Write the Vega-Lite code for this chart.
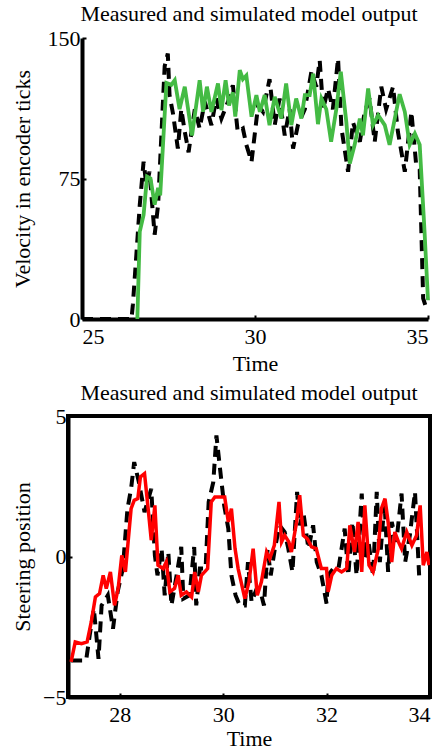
{
  "$schema": "https://vega.github.io/schema/vega-lite/v6.json",
  "padding": {"left": 9, "top": 3, "right": 5, "bottom": 3},
  "background": "white",
  "spacing": 6,
  "config": {
    "font": "Liberation Serif",
    "axis": {
      "domainColor": "black",
      "domainWidth": 4,
      "tickColor": "black",
      "tickWidth": 2,
      "tickSize": -4,
      "grid": false,
      "zindex": 1,
      "labelFont": "Liberation Serif",
      "labelFontSize": 22,
      "labelColor": "black",
      "titleFont": "Liberation Serif",
      "titleFontSize": 22,
      "titleFontWeight": "normal",
      "titleColor": "black",
      "labelPadding": 6
    },
    "axisX": {"labelPadding": 11, "titlePadding": 6},
    "title": {"font": "Liberation Serif", "fontSize": 22, "fontWeight": "normal", "color": "black", "frame": "group"}
  },
  "datasets": {
    "vel_sim": [
      {"t": 26.6, "v": 0}, {"t": 26.67, "v": 46.7}, {"t": 26.78, "v": 55.6}, {"t": 26.88, "v": 76}, {"t": 26.98, "v": 75},
      {"t": 27.1, "v": 61}, {"t": 27.2, "v": 70}, {"t": 27.26, "v": 66}, {"t": 27.44, "v": 126}, {"t": 27.58, "v": 125},
      {"t": 27.68, "v": 127.5}, {"t": 27.82, "v": 112}, {"t": 27.97, "v": 124}, {"t": 28.18, "v": 98}, {"t": 28.4, "v": 127.5},
      {"t": 28.5, "v": 110.6}, {"t": 28.61, "v": 124}, {"t": 28.74, "v": 110.6}, {"t": 28.93, "v": 125.7}, {"t": 29.03, "v": 111.5},
      {"t": 29.15, "v": 127.5}, {"t": 29.25, "v": 114}, {"t": 29.36, "v": 121}, {"t": 29.43, "v": 108}, {"t": 29.56, "v": 132.8},
      {"t": 29.65, "v": 128}, {"t": 29.75, "v": 130}, {"t": 29.9, "v": 108}, {"t": 30.04, "v": 119.5}, {"t": 30.14, "v": 110.6},
      {"t": 30.28, "v": 119.5}, {"t": 30.42, "v": 103.5}, {"t": 30.57, "v": 118.6}, {"t": 30.76, "v": 107}, {"t": 30.9, "v": 125.7},
      {"t": 31.05, "v": 103.5}, {"t": 31.19, "v": 117.7}, {"t": 31.34, "v": 107}, {"t": 31.44, "v": 119.5}, {"t": 31.58, "v": 119.5},
      {"t": 31.68, "v": 131}, {"t": 31.82, "v": 104}, {"t": 31.92, "v": 117.7}, {"t": 32.06, "v": 112}, {"t": 32.2, "v": 94.6},
      {"t": 32.35, "v": 112}, {"t": 32.48, "v": 132}, {"t": 32.64, "v": 105}, {"t": 32.74, "v": 83}, {"t": 32.88, "v": 93},
      {"t": 33.03, "v": 107}, {"t": 33.12, "v": 98}, {"t": 33.27, "v": 123}, {"t": 33.41, "v": 103.5}, {"t": 33.56, "v": 108.8},
      {"t": 33.75, "v": 103.5}, {"t": 33.89, "v": 93}, {"t": 34.04, "v": 107}, {"t": 34.18, "v": 120}, {"t": 34.33, "v": 110.6},
      {"t": 34.47, "v": 93}, {"t": 34.62, "v": 99}, {"t": 34.76, "v": 93}, {"t": 34.9, "v": 46.7}, {"t": 35.0, "v": 10}
    ],
    "vel_meas": [
      {"t": 25.0, "v": 0}, {"t": 26.43, "v": 0}, {"t": 26.47, "v": 7.6}, {"t": 26.57, "v": 34}, {"t": 26.67, "v": 61}, {"t": 26.78, "v": 84},
      {"t": 26.86, "v": 71.5}, {"t": 26.95, "v": 78.6}, {"t": 27.1, "v": 45}, {"t": 27.2, "v": 61}, {"t": 27.34, "v": 116},
      {"t": 27.39, "v": 135}, {"t": 27.48, "v": 141.7}, {"t": 27.53, "v": 119.5}, {"t": 27.63, "v": 109.7}, {"t": 27.77, "v": 91},
      {"t": 27.87, "v": 112}, {"t": 27.97, "v": 100}, {"t": 28.08, "v": 89}, {"t": 28.26, "v": 112}, {"t": 28.4, "v": 101.7},
      {"t": 28.55, "v": 116}, {"t": 28.74, "v": 103.5}, {"t": 28.88, "v": 117.7}, {"t": 29.03, "v": 107}, {"t": 29.22, "v": 116},
      {"t": 29.36, "v": 124.8}, {"t": 29.5, "v": 100}, {"t": 29.65, "v": 101.7}, {"t": 29.75, "v": 93}, {"t": 29.9, "v": 84},
      {"t": 30.09, "v": 114}, {"t": 30.23, "v": 110.6}, {"t": 30.42, "v": 128}, {"t": 30.57, "v": 103.5}, {"t": 30.71, "v": 117.7},
      {"t": 30.86, "v": 98}, {"t": 31.0, "v": 112}, {"t": 31.1, "v": 91}, {"t": 31.24, "v": 103.5}, {"t": 31.44, "v": 112},
      {"t": 31.63, "v": 132}, {"t": 31.77, "v": 124}, {"t": 31.87, "v": 138}, {"t": 31.97, "v": 112}, {"t": 32.11, "v": 123},
      {"t": 32.25, "v": 112}, {"t": 32.4, "v": 139}, {"t": 32.5, "v": 101.7}, {"t": 32.69, "v": 78.6}, {"t": 32.83, "v": 105},
      {"t": 33.03, "v": 94.6}, {"t": 33.17, "v": 110.6}, {"t": 33.31, "v": 117.7}, {"t": 33.46, "v": 94.6}, {"t": 33.65, "v": 124},
      {"t": 33.79, "v": 112}, {"t": 33.99, "v": 124}, {"t": 34.13, "v": 100}, {"t": 34.33, "v": 78.6}, {"t": 34.52, "v": 110.6},
      {"t": 34.66, "v": 82}, {"t": 34.76, "v": 80}, {"t": 34.86, "v": 11}, {"t": 34.92, "v": 7.6}
    ],
    "steer_sim": [
      {"t": 27.06, "v": -3.75}, {"t": 27.14, "v": -3.04}, {"t": 27.26, "v": -3.1}, {"t": 27.37, "v": -3.04}, {"t": 27.45, "v": -2.33},
      {"t": 27.53, "v": -1.44}, {"t": 27.61, "v": -1.32}, {"t": 27.68, "v": -0.67}, {"t": 27.74, "v": -1.14}, {"t": 27.82, "v": -0.55},
      {"t": 27.9, "v": -1.74}, {"t": 27.97, "v": -1.14}, {"t": 28.04, "v": 0.04}, {"t": 28.11, "v": -0.55}, {"t": 28.22, "v": 1.7},
      {"t": 28.28, "v": 2.0}, {"t": 28.35, "v": 2.06}, {"t": 28.4, "v": 2.83}, {"t": 28.48, "v": 2.95}, {"t": 28.55, "v": 1.7},
      {"t": 28.61, "v": 0.58}, {"t": 28.68, "v": 1.82}, {"t": 28.74, "v": -0.31}, {"t": 28.84, "v": -0.43}, {"t": 28.9, "v": -0.2},
      {"t": 28.97, "v": -1.26}, {"t": 29.06, "v": -1.14}, {"t": 29.13, "v": -0.67}, {"t": 29.19, "v": -1.38}, {"t": 29.29, "v": -1.26},
      {"t": 29.39, "v": -1.44}, {"t": 29.45, "v": -0.55}, {"t": 29.52, "v": -1.26}, {"t": 29.58, "v": -0.67}, {"t": 29.7, "v": -0.43},
      {"t": 29.77, "v": 1.94}, {"t": 29.84, "v": 2.12}, {"t": 29.97, "v": 2.12}, {"t": 30.03, "v": 2.12}, {"t": 30.1, "v": 1.23},
      {"t": 30.16, "v": 1.7}, {"t": 30.23, "v": 0.28}, {"t": 30.29, "v": -0.43}, {"t": 30.42, "v": -1.5}, {"t": 30.5, "v": -0.9},
      {"t": 30.58, "v": 0.28}, {"t": 30.66, "v": -1.38}, {"t": 30.74, "v": -0.9}, {"t": 30.84, "v": 0.16}, {"t": 30.9, "v": -0.08},
      {"t": 30.99, "v": 0.4}, {"t": 31.08, "v": 1.94}, {"t": 31.13, "v": 0.52}, {"t": 31.19, "v": 0.75}, {"t": 31.27, "v": 0.52},
      {"t": 31.32, "v": 0.16}, {"t": 31.42, "v": 1.23}, {"t": 31.48, "v": 2.18}, {"t": 31.55, "v": 0.75}, {"t": 31.63, "v": 0.63},
      {"t": 31.71, "v": 0.34}, {"t": 31.8, "v": 0.28}, {"t": 31.9, "v": -0.43}, {"t": 32.0, "v": -0.43}, {"t": 32.03, "v": -1.26},
      {"t": 32.1, "v": -0.67}, {"t": 32.19, "v": -0.43}, {"t": 32.29, "v": -0.55}, {"t": 32.39, "v": -0.43}, {"t": 32.45, "v": 1.11},
      {"t": 32.54, "v": 0.16}, {"t": 32.61, "v": 1.23}, {"t": 32.68, "v": -0.55}, {"t": 32.74, "v": 1.82}, {"t": 32.82, "v": -0.31},
      {"t": 32.9, "v": -0.55}, {"t": 33.0, "v": 0.28}, {"t": 33.06, "v": 1.7}, {"t": 33.13, "v": 2.06}, {"t": 33.19, "v": 1.23},
      {"t": 33.26, "v": -0.2}, {"t": 33.32, "v": 0.87}, {"t": 33.39, "v": 0.52}, {"t": 33.45, "v": 0.28}, {"t": 33.55, "v": 0.87},
      {"t": 33.65, "v": 0.4}, {"t": 33.74, "v": 0.75}, {"t": 33.81, "v": 1.82}, {"t": 33.87, "v": -0.31}, {"t": 33.94, "v": 0.16},
      {"t": 33.98, "v": -0.31}
    ],
    "steer_meas": [
      {"t": 27.06, "v": -3.7}, {"t": 27.35, "v": -3.7}, {"t": 27.42, "v": -2.8}, {"t": 27.5, "v": -1.86}, {"t": 27.59, "v": -3.64},
      {"t": 27.65, "v": -1.74}, {"t": 27.77, "v": -1.38}, {"t": 27.87, "v": -2.57}, {"t": 27.96, "v": -1.26}, {"t": 28.06, "v": -0.43},
      {"t": 28.15, "v": 1.7}, {"t": 28.22, "v": 2.41}, {"t": 28.28, "v": 3.36}, {"t": 28.37, "v": 2.65}, {"t": 28.48, "v": 1.58},
      {"t": 28.61, "v": 2.41}, {"t": 28.68, "v": 0.04}, {"t": 28.73, "v": -0.67}, {"t": 28.81, "v": 0.28}, {"t": 28.87, "v": -1.38},
      {"t": 28.94, "v": 0.16}, {"t": 29.0, "v": -1.74}, {"t": 29.1, "v": -0.67}, {"t": 29.19, "v": 0.34}, {"t": 29.23, "v": -1.5},
      {"t": 29.35, "v": -1.38}, {"t": 29.44, "v": 0.34}, {"t": 29.48, "v": -1.74}, {"t": 29.55, "v": -0.43}, {"t": 29.66, "v": -0.43},
      {"t": 29.72, "v": 1.94}, {"t": 29.81, "v": 2.65}, {"t": 29.87, "v": 4.31}, {"t": 29.94, "v": 3.12}, {"t": 30.02, "v": 1.82},
      {"t": 30.1, "v": 0.99}, {"t": 30.16, "v": -0.67}, {"t": 30.24, "v": -1.38}, {"t": 30.32, "v": -1.74}, {"t": 30.42, "v": -1.74},
      {"t": 30.48, "v": -0.2}, {"t": 30.55, "v": -1.62}, {"t": 30.65, "v": -1.14}, {"t": 30.74, "v": -1.38}, {"t": 30.79, "v": -1.74},
      {"t": 30.86, "v": 0.28}, {"t": 30.92, "v": -0.67}, {"t": 31.0, "v": 0.28}, {"t": 31.09, "v": 1.11}, {"t": 31.19, "v": 0.87},
      {"t": 31.26, "v": 0.28}, {"t": 31.34, "v": -0.55}, {"t": 31.43, "v": 2.3}, {"t": 31.48, "v": 1.11}, {"t": 31.55, "v": 1.58},
      {"t": 31.65, "v": 0.28}, {"t": 31.74, "v": 1.11}, {"t": 31.81, "v": -0.2}, {"t": 31.9, "v": -0.67}, {"t": 32.0, "v": -1.68},
      {"t": 32.03, "v": -0.67}, {"t": 32.13, "v": -0.43}, {"t": 32.23, "v": -0.43}, {"t": 32.35, "v": 0.99}, {"t": 32.42, "v": -0.67},
      {"t": 32.5, "v": 1.23}, {"t": 32.58, "v": -0.67}, {"t": 32.68, "v": 2.24}, {"t": 32.74, "v": -0.08}, {"t": 32.81, "v": 0.52},
      {"t": 32.9, "v": -0.67}, {"t": 32.97, "v": 2.3}, {"t": 33.03, "v": -0.2}, {"t": 33.12, "v": 1.94}, {"t": 33.19, "v": -0.55},
      {"t": 33.26, "v": 1.23}, {"t": 33.35, "v": 0.52}, {"t": 33.45, "v": 2.24}, {"t": 33.52, "v": -0.2}, {"t": 33.61, "v": 0.75},
      {"t": 33.71, "v": 2.3}, {"t": 33.79, "v": -0.67}
    ]
  },
  "vconcat": [
    {
      "title": {"text": "Measured and simulated model output", "offset": 1},
      "width": 362,
      "height": 281,
      "view": {"stroke": null},
      "encoding": {
        "x": {"field": "t", "type": "quantitative", "scale": {"domain": [25, 35], "range": [14, 360], "nice": false, "zero": false}, "axis": {"title": "Time", "values": [25, 30, 35]}},
        "y": {"field": "v", "type": "quantitative", "scale": {"domain": [0, 150], "nice": false}, "axis": {"title": "Velocity in encoder ticks", "values": [0, 75, 150], "titlePadding": 13, "offset": -14}}
      },
      "layer": [
        {"data": {"name": "vel_meas"}, "mark": {"type": "line", "color": "black", "strokeWidth": 4, "strokeDash": [11, 7], "clip": true}},
        {"data": {"name": "vel_sim"}, "mark": {"type": "line", "color": "#44bb44", "strokeWidth": 3.8, "clip": true}}
      ]
    },
    {
      "title": {"text": "Measured and simulated model output", "offset": 0},
      "width": 362,
      "height": 281,
      "view": {"stroke": "black", "strokeWidth": 4},
      "encoding": {
        "x": {"field": "t", "type": "quantitative", "scale": {"domain": [27, 34], "nice": false, "zero": false}, "axis": {"title": "Time", "values": [28, 30, 32, 34], "titlePadding": 3}},
        "y": {"field": "v", "type": "quantitative", "scale": {"domain": [-5, 5], "nice": false}, "axis": {"title": "Steering position", "values": [-5, 0, 5], "titlePadding": 8}}
      },
      "layer": [
        {"data": {"name": "steer_meas"}, "mark": {"type": "line", "color": "black", "strokeWidth": 4, "strokeDash": [11, 7], "clip": true}},
        {"data": {"name": "steer_sim"}, "mark": {"type": "line", "color": "#ff0000", "strokeWidth": 3.5, "clip": true}}
      ]
    }
  ]
}
